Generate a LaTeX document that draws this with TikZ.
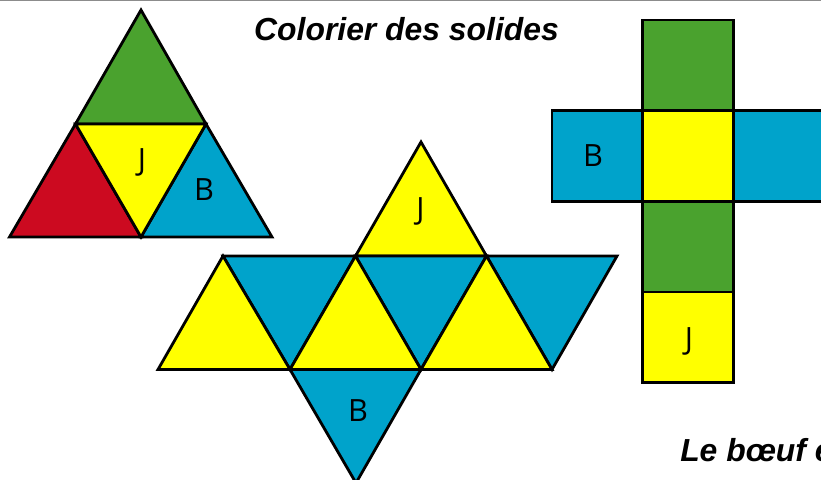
\documentclass[tikz,border=0pt]{standalone}
\usepackage{fontspec}
\setmainfont{Liberation Sans}
\newfontfamily\lettrefont{Open Sans}
\usepackage{tikz}
\definecolor{vert}{HTML}{4AA22E}
\definecolor{jaune}{HTML}{FFFF00}
\definecolor{bleu}{HTML}{00A3CB}
\definecolor{rouge}{HTML}{CC0A20}
\definecolor{gris}{HTML}{8C8C8C}
\tikzset{
	face/.style={draw=black, line width=2.1pt, line join=miter, miter limit=3},
	lettre/.style={font=\lettrefont\fontsize{23}{23}\selectfont, inner sep=0pt},
	titre/.style={font=\fontsize{23.9}{24}\selectfont\bfseries\itshape, inner sep=0pt}
}

\begin{document}
\begin{tikzpicture}[x=0.75pt, y=-0.75pt]
	
	\useasboundingbox (0, 0) rectangle (821, 479);
	\clip (0, 0) rectangle (821, 479);
	
	%Rand oben
	\draw[gris, line width=1pt] (0, 0.5) -- (821, 0.5);
	
	%Tetraeder
	\filldraw[face, fill=vert] (141, 10) -- (206, 124) -- (75.5, 124) -- cycle;
	\filldraw[face, fill=rouge] (75.5, 124) -- (141, 237) -- (9.5, 237) -- cycle;
	\filldraw[face, fill=bleu] (206, 124) -- (272, 237) -- (141, 237) -- cycle;
	\filldraw[face, fill=jaune] (75.5, 124) -- (206, 124) -- (141, 237) -- cycle;
	\node[lettre] (tetraJ) at (142, 162) {J};
	\node[lettre] (tetraB) at (204, 190) {B};
	
	%Oktaeder
	\filldraw[face, fill=jaune] (421, 142) -- (486.5, 256) -- (355.5, 256) -- cycle;
	\filldraw[face, fill=bleu] (290, 369.5) -- (421, 369.5) -- (356, 483) -- cycle;
	\filldraw[face, fill=bleu] (223, 256) -- (355.5, 256) -- (290, 369.5) -- cycle;
	\filldraw[face, fill=bleu] (355.5, 256) -- (486.5, 256) -- (421, 369.5) -- cycle;
	\filldraw[face, fill=bleu] (486.5, 256) -- (617, 256) -- (552, 369.5) -- cycle;
	\filldraw[face, fill=jaune] (223, 256) -- (290, 369.5) -- (158, 369.5) -- cycle;
	\filldraw[face, fill=jaune] (355.5, 256) -- (421, 369.5) -- (290, 369.5) -- cycle;
	\filldraw[face, fill=jaune] (486.5, 256) -- (552, 369.5) -- (421, 369.5) -- cycle;
	\node[lettre] (oktaJ) at (420.5, 211) {J};
	\node[lettre] (oktaB) at (358, 411) {B};
	
	%Wuerfel
	\foreach \oben/\unten/\farbe in {20/110.5/vert, 201.5/292/vert, 292/382.5/jaune}
		\filldraw[face, fill=\farbe] (642.5, \oben) rectangle (733.5, \unten);
	\filldraw[face, fill=bleu] (552, 110.5) rectangle (642.5, 201.5);
	\filldraw[face, fill=bleu] (733.5, 110.5) rectangle (830, 201.5);
	\filldraw[face, fill=jaune] (642.5, 110.5) rectangle (733.5, 201.5);
	\node[lettre] (wuerfelB) at (593, 156) {B};
	\node[lettre] (wuerfelJ) at (689, 341) {J};
	
	%Text
	\node[titre] (titel) at (406.5, 29) {Colorier des solides};
	\node[titre, anchor=base west] (boeuf) at (680, 461) {Le bœuf e};

\end{tikzpicture}
\end{document}
